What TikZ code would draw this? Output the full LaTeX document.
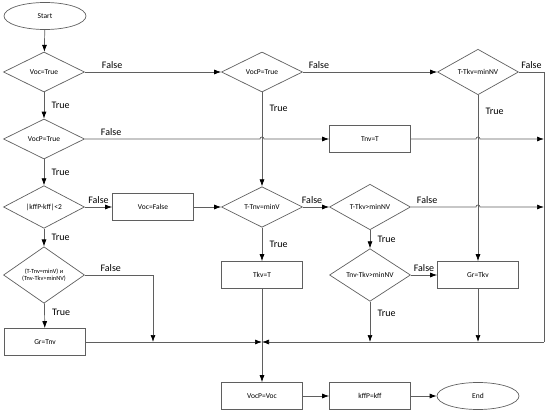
\documentclass[tikz,border=0pt]{standalone}
\usepackage{fontspec}
\setmainfont{Carlito}
\usepackage{tikz}
\usetikzlibrary{shapes.geometric,arrows.meta}
\definecolor{linegray}{RGB}{95,95,95}

\begin{document}
\begin{tikzpicture}[x=1pt,y=-1pt,
  every node/.style={font=\fontsize{7.5}{8.5}\selectfont},
  cond/.style={diamond, draw=linegray, line width=0.7pt, minimum width=81pt, minimum height=40pt, inner sep=0pt, align=center},
  act/.style={rectangle, draw=linegray, line width=0.7pt, minimum width=81pt, minimum height=27pt, inner sep=0pt},
  term/.style={ellipse, draw=linegray, line width=0.7pt, minimum width=82pt, minimum height=27pt, inner sep=0pt},
  flow/.style={draw=linegray, line width=0.7pt, -{Latex[color=black, length=7pt, width=5pt]}},
  wire/.style={draw=linegray, line width=0.7pt},
  lbl/.style={font=\fontsize{10}{11}\selectfont}]
  \useasboundingbox (0,0) rectangle (550,415);
  %% 1. Blocks
  \node[term] (start) at (45,16) {Start};
  \node[cond] (voc) at (44,72) {Voc=True};
  \node[cond] (vocp) at (44,139) {VocP=True};
  \node[cond] (kff) at (44,207) {|kffP-kff|<2};
  \node[cond, font=\fontsize{6.3}{7.3}\selectfont] (both) at (44,275) {(T-Tnv=minV) и\\(Tnv-Tkv>minNV)};
  \node[act] (grtnv) at (45,342) {Gr=Tnv};
  \node[act] (vocfalse) at (153,207) {Voc=False};
  \node[cond] (vocpb) at (262,72) {VocP=True};
  \node[cond] (tnvmin) at (262,207) {T-Tnv=minV};
  \node[act] (tkvt) at (262,275) {Tkv=T};
  \node[act] (vocpvoc) at (262,396) {VocP=Voc};
  \node[act] (tnvt) at (370,139) {Tnv=T};
  \node[cond] (tkvnv) at (370,207) {T-Tkv>minNV};
  \node[cond] (tnvtkv) at (370,275) {Tnv-Tkv>minNV};
  \node[act] (kffp) at (370,396) {kffP=kff};
  \node[cond] (tkvmin) at (478,72) {T-Tkv=minNV};
  \node[act] (grtkv) at (478,275) {Gr=Tkv};
  \node[term] (finish) at (478,396) {End};
  %% 2. Joints
  \coordinate (merge) at (262,342);
  \coordinate (railtop) at (544,72);
  \coordinate (railbot) at (544,342);
  \coordinate (joint) at (153,342);
  %% 3. Left column
  \draw[flow] (start) -- (voc);
  \draw[flow] (voc) -- node[lbl, right, xshift=4pt] {True} (vocp);
  \draw[flow] (vocp) -- node[lbl, right, xshift=4pt] {True} (kff);
  \draw[flow] (kff) -- node[lbl, right, xshift=4pt] {True} (both);
  \draw[flow] (both) -- node[lbl, right, xshift=4pt, pos=0.35] {True} (grtnv);
  \draw[flow] (both.east) -| node[lbl, above, pos=0.19] {False} (joint);
  \draw[flow] (grtnv) -- (merge);
  \draw[flow] (kff) -- node[lbl, above] {False} (vocfalse);
  \draw[flow] (vocfalse) -- (tnvmin);
  %% 4. Top row
  \draw[flow] (voc) -- node[lbl, above, pos=0.2] {False} (vocpb);
  \draw[flow] (vocpb) -- node[lbl, above, pos=0.12] {False} (tkvmin);
  \draw[wire] (tkvmin.east) -- node[lbl, above] {False} (railtop) -- (railbot);
  \draw[flow] (railbot) -- (merge);
  \draw[flow] (vocp.east) -- node[lbl, above, pos=0.15] {False} (260,139)
    arc[start angle=180, end angle=0, radius=2pt] -- (tnvt.west);
  \draw[flow] (tnvt.east) -- (476,139)
    arc[start angle=180, end angle=0, radius=2pt] -- (544,139);
  %% 5. Middle columns
  \draw[flow] (vocpb) -- node[lbl, right, xshift=4pt, pos=0.17] {True} (tnvmin);
  \draw[flow] (tnvmin) -- node[lbl, right, xshift=4pt] {True} (tkvt);
  \draw[wire] (tkvt) -- (merge);
  \draw[flow] (merge) -- (vocpvoc);
  \draw[flow] (tnvmin) -- node[lbl, above, pos=0.35] {False} (tkvnv);
  \draw[flow] (tkvnv.east) -- node[lbl, above, pos=0.25] {False} (476,207)
    arc[start angle=180, end angle=0, radius=2pt] -- (544,207);
  \draw[flow] (tkvnv) -- node[lbl, right, xshift=4pt] {True} (tnvtkv);
  \draw[flow] (tnvtkv) -- node[lbl, above] {False} (grtkv);
  \draw[flow] (tnvtkv) -- node[lbl, right, xshift=4pt, pos=0.28] {True} (tnvtkv |- merge);
  \draw[flow] (tkvmin) -- node[lbl, right, xshift=4pt, pos=0.1] {True} (grtkv);
  \draw[flow] (grtkv) -- (grtkv |- merge);
  %% 6. Bottom row
  \draw[flow] (vocpvoc) -- (kffp);
  \draw[flow] (kffp) -- (finish);
\end{tikzpicture}
\end{document}
